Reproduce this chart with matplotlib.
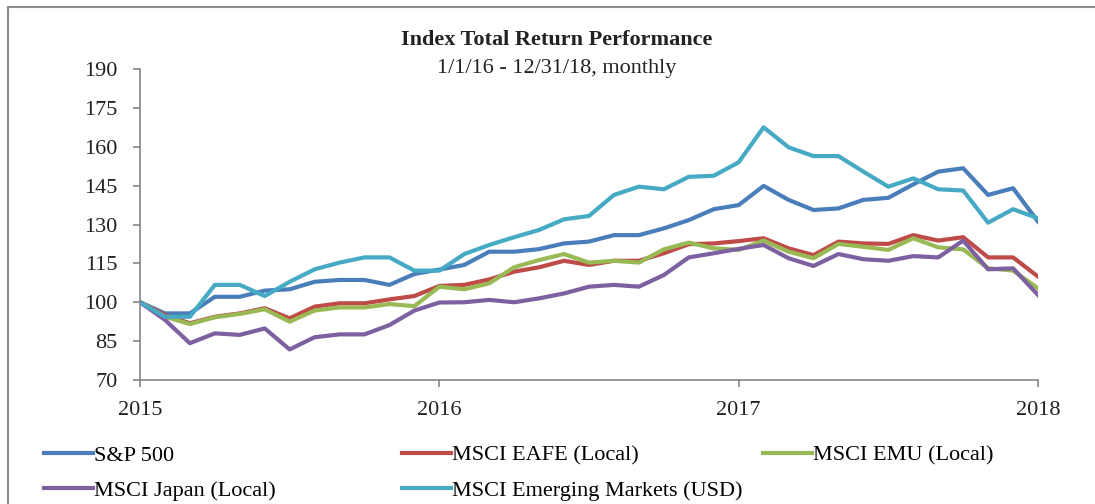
import matplotlib
matplotlib.use("Agg")
from matplotlib import pyplot as plt
from matplotlib.lines import Line2D

# monthly index levels, start = 100
months = list(range(37))
sp500 = [100, 95.7, 95.7, 102.1, 102.1, 104.5, 105.0, 107.9, 108.6, 108.6, 106.7, 110.9,
         112.6, 114.4, 119.5, 119.5, 120.5, 122.7, 123.4, 125.9, 125.9, 128.5, 131.7, 135.9,
         137.5, 144.9, 139.5, 135.6, 136.2, 139.5, 140.3, 145.5, 150.4, 151.7, 141.4, 144.0,
         131.1]
eafe = [100, 95.1, 91.9, 94.4, 95.7, 97.7, 93.8, 98.3, 99.6, 99.6, 101.1, 102.4,
        106.3, 106.7, 108.8, 111.8, 113.5, 116.0, 114.4, 116.0, 116.0, 118.9, 122.4, 122.7,
        123.6, 124.7, 120.8, 118.2, 123.4, 122.7, 122.5, 125.9, 123.8, 125.1, 117.3, 117.3,
        109.9]
emu = [100, 94.4, 91.6, 94.2, 95.5, 97.3, 92.5, 96.8, 98.0, 98.0, 99.3, 98.5,
       106.0, 105.0, 107.3, 113.5, 116.3, 118.6, 115.3, 116.0, 115.3, 120.4, 123.0, 120.8,
       120.2, 123.8, 119.5, 117.0, 122.5, 121.4, 120.2, 124.7, 121.2, 120.4, 113.1, 112.2,
       105.4]
japan = [100, 93.2, 84.2, 88.0, 87.4, 89.9, 81.8, 86.5, 87.6, 87.6, 91.2, 96.8,
         99.9, 100.0, 100.9, 100.0, 101.5, 103.4, 106.0, 106.7, 106.0, 110.5, 117.3, 118.9,
         120.6, 122.1, 117.0, 114.0, 118.6, 116.6, 116.0, 117.8, 117.3, 123.8, 112.7, 113.1,
         102.8]
emerging = [100, 94.4, 94.4, 106.7, 106.7, 102.4, 107.9, 112.7, 115.3, 117.3, 117.3, 112.2,
            112.2, 118.6, 122.1, 125.1, 127.9, 132.0, 133.3, 141.4, 144.6, 143.6, 148.4, 148.8,
            154.0, 167.5, 159.8, 156.4, 156.4, 150.4, 144.6, 147.8, 143.6, 143.1, 130.7, 135.9,
            132.4]

year_ticks = [0, 12, 24, 36]
year_labels = ["2015", "2016", "2017", "2018"]
y_ticks = [70, 85, 100, 115, 130, 145, 160, 175, 190]

plt.rcParams['font.family'] = ['Liberation Serif', 'DejaVu Serif']
plt.rcParams['font.size'] = 16

fig = plt.figure(figsize=(10.95, 5.04), dpi=100)
ax = fig.add_axes([140 / 1095, 1 - 380 / 504, 898 / 1095, 311 / 504])

lw = 3.0
l_sp, = ax.plot(months, sp500, color='#4A7EBB', lw=lw, label='S&P 500')
l_eafe, = ax.plot(months, eafe, color='#BE4B48', lw=lw, label='MSCI EAFE (Local)')
l_emu, = ax.plot(months, emu, color='#98B954', lw=lw, label='MSCI EMU (Local)')
l_jp, = ax.plot(months, japan, color='#7D60A0', lw=lw, label='MSCI Japan (Local)')
l_em, = ax.plot(months, emerging, color='#46AAC5', lw=lw, label='MSCI Emerging Markets (USD)')

ax.set_xlim(0, 36)
ax.set_ylim(70, 190)
ax.set_yticks(y_ticks)
ax.set_xticks(year_ticks)
ax.set_xticklabels(year_labels)
for side in ['top', 'right']:
    ax.spines[side].set_visible(False)
for side in ['left', 'bottom']:
    ax.spines[side].set_color('#868686')
    ax.spines[side].set_linewidth(1.2)
ax.tick_params(axis='y', length=5, width=1.2, color='#868686', pad=11, labelcolor='#222222')
ax.tick_params(axis='x', length=5, width=1.2, color='#868686', pad=10, labelcolor='#222222')
for lbl in ax.get_yticklabels() + ax.get_xticklabels():
    lbl.set_fontsize(16)

# titles
fig.text(557 / 1095, 1 - 40 / 504, 'Index Total Return Performance', ha='center', va='center',
         fontsize=16, fontweight='bold', color='#222222')
fig.text(557 / 1095, 1 - 68 / 504, '1/1/16 - 12/31/18, monthly', ha='center', va='center',
         fontsize=16, color='#222222')

# legend, three columns placed by hand
legend_cols = [([l_sp, l_jp], 44), ([l_eafe, l_em], 402), ([l_emu], 763)]
for handles, x0 in legend_cols:
    fig.legend(handles=handles, loc='upper left', bbox_to_anchor=(x0 / 1095, 1 - 445 / 504),
               frameon=False, fontsize=16, handlelength=2.2, handletextpad=0.05,
               labelspacing=0.68, borderaxespad=0, borderpad=0)

# chart border (top and left edges visible)
fig.add_artist(Line2D([8 / 1095, 8 / 1095], [0, 1 - 7 / 504], transform=fig.transFigure,
                      color='#8c8c8c', lw=1.5))
fig.add_artist(Line2D([8 / 1095, 1], [1 - 7 / 504, 1 - 7 / 504], transform=fig.transFigure,
                      color='#8c8c8c', lw=1.5))

plt.savefig('out.png', dpi=100)
plt.close()
